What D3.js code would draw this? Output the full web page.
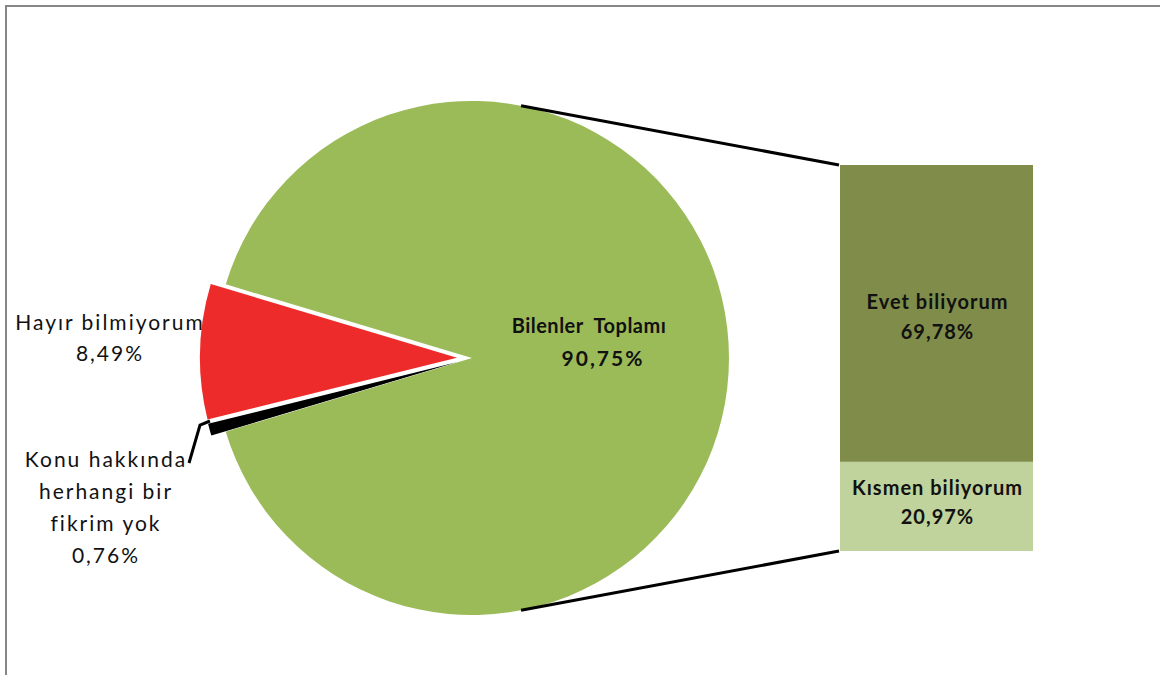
<!DOCTYPE html>
<html>
<head>
<meta charset="utf-8">
<script src="https://cdn.jsdelivr.net/npm/d3@7"></script>
<style>
  body { margin: 0; background: #fff; }
  svg text { font-family: Lato, "Open Sans", sans-serif; white-space: pre; }
</style>
</head>
<body>
<div id="chart"></div>
<script>
// pie slices, in drawing order (clockwise from the lower-left edge)
var pieLabels = ["Konu hakkında herhangi bir fikrim yok", "Hayır bilmiyorum", "Bilenler  Toplamı"];
var pieValues = [0.76, 8.49, 90.75];
var pieTexts = ["0,76%", "8,49%", "90,75%"];
var pieColors = ["#000000", "#ee2b2b", "#9bbb59"];

// the "Bilenler Toplamı" slice split into the bar, bottom to top
var barLabels = ["Kısmen biliyorum", "Evet biliyorum"];
var barValues = [20.97, 69.78];
var barTexts = ["20,97%", "69,78%"];
var barColors = ["#c1d39c", "#7f8c4a"];

var width = 1160, height = 675;
var cx = 472, cy = 358, r = 257;

var svg = d3.select("#chart").append("svg")
  .attr("width", width)
  .attr("height", height);

svg.append("rect")
  .attr("x", 6).attr("y", 6)
  .attr("width", width).attr("height", height)
  .attr("fill", "none")
  .attr("stroke", "#878787")
  .attr("stroke-width", 2);

// the small slices are centred on 9 o'clock
var otherShare = (pieValues[0] + pieValues[1]) / d3.sum(pieValues);
var start = 1.5 * Math.PI - otherShare * Math.PI;

var pie = d3.pie().sort(null)
  .startAngle(start)
  .endAngle(start + 2 * Math.PI);
var arcs = pie(pieValues);

var arc = d3.arc().innerRadius(0).outerRadius(r);
var explode = 15;

var pieG = svg.append("g").attr("transform", "translate(" + cx + "," + cy + ")");

pieG.selectAll("path")
  .data(arcs)
  .enter().append("path")
  .attr("d", arc)
  .attr("fill", function(d, i) { return pieColors[i]; })
  .attr("transform", function(d, i) {
    if (i == 2) return null;
    var a = (d.startAngle + d.endAngle) / 2;
    return "translate(" + (Math.sin(a) * explode) + "," + (-Math.cos(a) * explode) + ")";
  });

// bar of the split slice
var barX = 840, barW = 193;
var y = d3.scaleLinear().domain([0, d3.sum(barValues)]).range([551, 165]);
var segs = [];
var acc = 0;
barValues.forEach(function(v, i) {
  segs.push({ label: barLabels[i], text: barTexts[i], y0: acc, y1: acc + v, color: barColors[i] });
  acc += v;
});

svg.append("g").selectAll("rect")
  .data(segs)
  .enter().append("rect")
  .attr("x", barX)
  .attr("width", barW)
  .attr("y", function(d) { return y(d.y1); })
  .attr("height", function(d) { return y(d.y0) - y(d.y1); })
  .attr("fill", function(d) { return d.color; });

// connector lines from the pie to the bar
var ca = 11 * Math.PI / 180;
var lines = [
  [cx + r * Math.sin(ca), cy - r * Math.cos(ca), barX - 1, y(d3.sum(barValues))],
  [cx + r * Math.sin(ca), cy + r * Math.cos(ca), barX - 1, y(0)]
];
svg.selectAll(".conn")
  .data(lines)
  .enter().append("line")
  .attr("class", "conn")
  .attr("x1", function(d) { return d[0]; })
  .attr("y1", function(d) { return d[1]; })
  .attr("x2", function(d) { return d[2]; })
  .attr("y2", function(d) { return d[3]; })
  .attr("stroke", "#000")
  .attr("stroke-width", 3);

// bar labels
var barLabelY = [495, 309];
var barLabelGap = [29, 30];
var bx = barX + barW / 2 + 1;
segs.forEach(function(d, i) {
  var t = svg.append("text")
    .attr("y", barLabelY[i])
    .attr("text-anchor", "middle")
    .attr("font-weight", "bold")
    .attr("font-size", 20)
    .attr("letter-spacing", 1)
    .attr("fill", "#111");
  t.append("tspan").attr("x", bx).text(d.label);
  t.append("tspan").attr("x", bx).attr("dy", barLabelGap[i]).text(d.text);
});

// pie labels
var big = svg.append("text")
  .attr("y", 333)
  .attr("text-anchor", "middle")
  .attr("font-weight", "bold")
  .attr("fill", "#111");
big.append("tspan").attr("x", 589)
  .attr("font-size", 20).attr("letter-spacing", 0.5)
  .text(pieLabels[2]);
big.append("tspan").attr("x", 603).attr("dy", 33)
  .attr("font-size", 21).attr("letter-spacing", 2)
  .text(pieTexts[2]);

var hay = svg.append("text")
  .attr("y", 330)
  .attr("text-anchor", "middle")
  .attr("font-size", 21)
  .attr("letter-spacing", 2)
  .attr("fill", "#111");
hay.append("tspan").attr("x", 110).text(pieLabels[1]);
hay.append("tspan").attr("x", 110).attr("dy", 31).text(pieTexts[1]);

var konuLines = ["Konu hakkında", "herhangi bir", "fikrim yok", pieTexts[0]];
var konu = svg.append("text")
  .attr("y", 467)
  .attr("text-anchor", "middle")
  .attr("font-size", 21)
  .attr("letter-spacing", 2)
  .attr("fill", "#111");
konu.selectAll("tspan")
  .data(konuLines)
  .enter().append("tspan")
  .attr("x", 106)
  .attr("dy", function(d, i) { return i == 0 ? 0 : 32; })
  .text(function(d) { return d; });

// leader line to the black slice
svg.append("polyline")
  .attr("points", "189,463 200,425 210,421")
  .attr("fill", "none")
  .attr("stroke", "#000")
  .attr("stroke-width", 3);
</script>
</body>
</html>
